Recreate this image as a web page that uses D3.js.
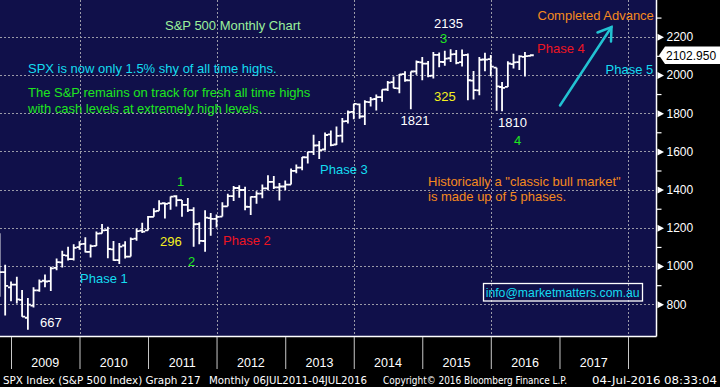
<!DOCTYPE html>
<html>
<head>
<meta charset="utf-8">
<script src="https://cdn.jsdelivr.net/npm/d3@7"></script>
<style>
  html, body { margin: 0; padding: 0; background: #000; }
  svg { display: block; font-family: "Liberation Sans", Arial, sans-serif; }
</style>
</head>
<body>
<svg id="chart" width="720" height="387"></svg>
<script>
// Monthly SPX bars, Oct 2008 - Jul 2016
const months = [
  "2008-10","2008-11","2008-12",
  "2009-01","2009-02","2009-03","2009-04","2009-05","2009-06","2009-07","2009-08","2009-09","2009-10","2009-11","2009-12",
  "2010-01","2010-02","2010-03","2010-04","2010-05","2010-06","2010-07","2010-08","2010-09","2010-10","2010-11","2010-12",
  "2011-01","2011-02","2011-03","2011-04","2011-05","2011-06","2011-07","2011-08","2011-09","2011-10","2011-11","2011-12",
  "2012-01","2012-02","2012-03","2012-04","2012-05","2012-06","2012-07","2012-08","2012-09","2012-10","2012-11","2012-12",
  "2013-01","2013-02","2013-03","2013-04","2013-05","2013-06","2013-07","2013-08","2013-09","2013-10","2013-11","2013-12",
  "2014-01","2014-02","2014-03","2014-04","2014-05","2014-06","2014-07","2014-08","2014-09","2014-10","2014-11","2014-12",
  "2015-01","2015-02","2015-03","2015-04","2015-05","2015-06","2015-07","2015-08","2015-09","2015-10","2015-11","2015-12",
  "2016-01","2016-02","2016-03","2016-04","2016-05","2016-06","2016-07"
];
const opens = [
  1164.17, 968.67, 888.61,
  902.99, 823.09, 729.57, 793.59, 872.74, 923.26, 920.82, 990.22, 1019.52, 1054.91, 1036.18, 1098.89,
  1116.56, 1073.89, 1105.36, 1171.23, 1188.58, 1087.30, 1031.10, 1107.53, 1049.72, 1143.49, 1185.71, 1186.60,
  1257.62, 1289.14, 1328.64, 1329.48, 1365.21, 1345.20, 1320.64, 1292.59, 1219.12, 1131.21, 1251.00, 1246.91,
  1258.86, 1312.45, 1365.90, 1408.47, 1397.86, 1309.87, 1362.33, 1379.32, 1406.54, 1440.90, 1412.20, 1416.18,
  1426.19, 1498.11, 1514.68, 1569.18, 1597.55, 1631.71, 1609.78, 1689.42, 1635.95, 1682.41, 1758.70, 1806.55,
  1845.86, 1782.68, 1857.68, 1873.96, 1884.39, 1923.87, 1962.29, 1929.80, 2004.07, 1971.44, 2018.21, 2065.78,
  2058.90, 1996.67, 2105.23, 2067.63, 2087.38, 2108.64, 2067.00, 2104.49, 1970.09, 1919.65, 2080.76, 2082.93,
  2038.20, 1936.94, 1937.09, 2056.62, 2067.17, 2093.94, 2099.34
];
const highs = [
  1172.00, 1007.51, 918.85,
  943.85, 875.01, 832.98, 888.70, 930.17, 956.23, 996.68, 1039.47, 1080.15, 1101.36, 1113.69, 1130.38,
  1150.45, 1112.42, 1180.69, 1219.80, 1205.13, 1131.23, 1120.95, 1129.24, 1148.90, 1196.14, 1227.08, 1262.60,
  1302.67, 1344.07, 1332.28, 1364.56, 1370.58, 1345.20, 1356.48, 1307.38, 1229.29, 1292.66, 1277.55, 1269.37,
  1333.47, 1378.04, 1419.15, 1422.38, 1415.32, 1363.46, 1391.74, 1426.68, 1474.51, 1470.96, 1434.27, 1448.00,
  1509.94, 1530.94, 1570.28, 1597.57, 1687.18, 1654.19, 1698.78, 1709.67, 1729.86, 1775.22, 1813.55, 1849.44,
  1850.84, 1867.92, 1883.97, 1897.28, 1924.03, 1968.17, 1991.39, 2005.04, 2019.26, 2018.19, 2075.76, 2093.55,
  2072.36, 2119.59, 2117.52, 2125.92, 2134.72, 2129.87, 2132.82, 2112.66, 2020.86, 2094.32, 2116.48, 2104.27,
  2038.20, 1962.96, 2072.21, 2111.05, 2103.48, 2120.55, 2108.71
];
const lows = [
  839.80, 741.02, 815.69,
  804.30, 734.52, 666.79, 783.32, 866.10, 888.86, 869.32, 978.51, 991.97, 1029.38, 1029.38, 1085.89,
  1071.59, 1044.50, 1105.36, 1170.69, 1040.78, 1028.33, 1010.91, 1039.70, 1049.72, 1131.87, 1173.00, 1186.60,
  1257.62, 1289.14, 1249.05, 1294.70, 1311.80, 1258.07, 1282.86, 1101.54, 1114.22, 1074.77, 1158.66, 1202.37,
  1258.86, 1312.45, 1340.03, 1357.38, 1291.98, 1266.74, 1325.41, 1354.65, 1396.56, 1403.28, 1343.35, 1398.11,
  1426.19, 1485.01, 1501.48, 1536.03, 1581.28, 1560.33, 1604.57, 1627.47, 1633.41, 1646.47, 1746.20, 1767.99,
  1770.45, 1737.92, 1834.44, 1814.36, 1859.79, 1915.98, 1930.67, 1904.78, 1964.04, 1820.66, 2001.01, 1972.56,
  1988.12, 1980.90, 2039.69, 2048.38, 2067.93, 2056.32, 2044.02, 1867.01, 1871.91, 1893.70, 2019.39, 1993.26,
  1812.29, 1810.10, 1937.09, 2033.80, 2025.91, 1991.68, 2097.90
];
const closes = [
  968.75, 896.24, 903.25,
  825.88, 735.09, 797.87, 872.81, 919.14, 919.32, 987.48, 1020.62, 1057.08, 1036.19, 1095.63, 1115.10,
  1073.87, 1104.49, 1169.43, 1186.69, 1089.41, 1030.71, 1101.60, 1049.33, 1141.20, 1183.26, 1180.55, 1257.64,
  1286.12, 1327.22, 1325.83, 1363.61, 1345.20, 1320.64, 1292.28, 1218.89, 1131.42, 1253.30, 1246.96, 1257.60,
  1312.41, 1365.68, 1408.47, 1397.91, 1310.33, 1362.16, 1379.32, 1406.58, 1440.67, 1412.16, 1416.18, 1426.19,
  1498.11, 1514.68, 1569.19, 1597.57, 1630.74, 1606.28, 1685.73, 1632.97, 1681.55, 1756.54, 1805.81, 1848.36,
  1782.59, 1859.45, 1872.34, 1883.95, 1923.57, 1960.23, 1930.67, 2003.37, 1972.29, 2018.05, 2067.56, 2058.90,
  1994.99, 2104.50, 2067.89, 2085.51, 2107.39, 2063.11, 2103.84, 1972.18, 1920.03, 2079.36, 2080.41, 2043.94,
  1940.24, 1932.23, 2059.74, 2065.30, 2096.95, 2098.86, 2102.95
];

const yTicks = [800, 1000, 1200, 1400, 1600, 1800, 2000, 2200];
const yMinorTicks = [900, 1100, 1300, 1500, 1700, 1900, 2100, 2300];
const yearLabels = [2009, 2010, 2011, 2012, 2013, 2014, 2015, 2016, 2017];
const gridYears = [2010, 2012, 2014, 2016, 2018];
const lastPrice = 2102.95;

const svg = d3.select("#chart");
const plotR = 656, plotB = 336;
const navy = "#10104a";

const x = d3.scaleTime()
  .domain([new Date(2009, 0, 1), new Date(2018, 0, 1)])
  .range([11, 628]);
const y = d3.scaleLinear()
  .domain([800, 2200])
  .range([304.3, 36.7]);

const parseMonth = d3.timeParse("%Y-%m");
// bloomberg draws each monthly bar at the month end
const bars = months.map((m, i) => ({
  date: d3.timeMonth.offset(parseMonth(m), 1),
  o: opens[i], h: highs[i], l: lows[i], c: closes[i]
}));

// backgrounds
svg.append("rect").attr("width", 720).attr("height", 387).attr("fill", "#000");
svg.append("rect").attr("width", plotR).attr("height", plotB).attr("fill", navy);

svg.append("defs").append("clipPath").attr("id", "plot-clip")
  .append("rect").attr("width", plotR).attr("height", plotB);

// grid
const grid = svg.append("g")
  .attr("stroke", "#9a9aa8").attr("stroke-width", 1).attr("stroke-dasharray", "2,2");
grid.selectAll("line.h").data(yTicks).join("line")
  .attr("class", "h")
  .attr("x1", 0).attr("x2", plotR)
  .attr("y1", d => Math.round(y(d)) + 0.5).attr("y2", d => Math.round(y(d)) + 0.5);
grid.selectAll("line.v").data(gridYears).join("line")
  .attr("class", "v")
  .attr("x1", d => Math.round(x(new Date(d, 0, 1))) + 0.5)
  .attr("x2", d => Math.round(x(new Date(d, 0, 1))) + 0.5)
  .attr("y1", 0).attr("y2", plotB);

// OHLC bars
const barG = svg.append("g").attr("clip-path", "url(#plot-clip)")
  .attr("stroke", "#fff").attr("stroke-width", 1.8).attr("fill", "none");
barG.selectAll("path").data(bars).join("path")
  .attr("d", d => {
    const cx = x(d.date);
    return `M${cx},${y(d.h)}V${y(d.l)}` +
      `M${cx - 3},${y(d.o)}H${cx}` +
      `M${cx},${y(d.c)}H${cx + 3}`;
  });

// annotations
const cyan = "#14dcf0", green = "#1ee61e", red = "#ee1522",
      orange = "#f58a1e", yellow = "#f5f01e", white = "#ffffff", paleGreen = "#9cf09c";
const notes = [
  ["S&P 500 Monthly Chart", 165, 30, paleGreen],
  ["SPX is now only 1.5% shy of all time highs.", 28, 73, cyan],
  ["The S&P remains on track for fresh all time highs", 28, 97, green],
  ["with cash levels at extremely high levels.", 28, 112.5, green],
  ["1", 177, 186, green],
  ["296", 160, 246, yellow],
  ["2", 188, 265.5, green],
  ["Phase 2", 223, 245, red],
  ["Phase 1", 80, 282.5, cyan],
  ["667", 40, 326.5, white],
  ["Phase 3", 320, 174, cyan],
  ["1821", 400.5, 125.3, white],
  ["325", 434, 101, yellow],
  ["3", 440, 43.3, green],
  ["2135", 434, 28.3, white],
  ["Phase 4", 537, 52.7, red],
  ["1810", 498, 127.3, white],
  ["4", 514, 145.3, green],
  ["Completed Advance", 537.5, 20, orange],
  ["Phase 5", 605.5, 74, cyan],
  ["Historically a \"classic bull market\"", 428, 186, orange],
  ["is made up of 5 phases.", 428, 201, orange]
];
svg.append("g").selectAll("text").data(notes).join("text")
  .attr("x", d => d[1]).attr("y", d => d[2])
  .attr("fill", d => d[3])
  .style("font-size", "13px")
  .text(d => d[0]);

// arrow towards completed advance
const arrow = svg.append("g").attr("stroke", "#22c2d2").attr("stroke-width", 2.5)
  .attr("fill", "none").attr("stroke-linecap", "round");
arrow.append("line").attr("x1", 560).attr("y1", 105.5).attr("x2", 611.5).attr("y2", 27);
arrow.append("polyline").attr("points", "597.5,32.5 611.5,27 611,41.5");

// contact box
svg.append("rect").attr("x", 483.5).attr("y", 283.5).attr("width", 159).attr("height", 17.5)
  .attr("fill", "none").attr("stroke", "#fff").attr("stroke-width", 1.3);
svg.append("text").attr("x", 485.7).attr("y", 297.3).attr("fill", cyan)
  .attr("textLength", 154).attr("lengthAdjust", "spacingAndGlyphs")
  .style("font-size", "12.5px").text("info@marketmatters.com.au");

// frame lines
svg.append("line").attr("x1", 0).attr("x2", plotR + 0.5).attr("y1", plotB + 0.5).attr("y2", plotB + 0.5)
  .attr("stroke", "#fff").attr("stroke-width", 1.5);
svg.append("line").attr("x1", plotR + 0.5).attr("x2", plotR + 0.5).attr("y1", 0).attr("y2", plotB + 0.5)
  .attr("stroke", "#fff").attr("stroke-width", 1.5);

// right axis
const axisG = svg.append("g").attr("transform", `translate(${plotR + 0.5},0)`);
axisG.call(d3.axisRight(y).tickValues(yMinorTicks).tickSize(5).tickFormat(""))
  .call(g => g.select(".domain").remove())
  .call(g => g.selectAll(".tick line").attr("stroke", "#fff").attr("stroke-width", 1.2));
const majorG = svg.append("g").attr("transform", `translate(${plotR + 0.5},0)`);
majorG.call(d3.axisRight(y).tickValues(yTicks).tickSize(0).tickPadding(10).tickFormat(d3.format("d")))
  .call(g => g.select(".domain").remove())
  .call(g => g.selectAll(".tick text")
    .attr("fill", "#fff").style("font-size", "12px")
    .style("font-family", "\"Liberation Sans\", Arial, sans-serif"));
majorG.selectAll(".tick").append("path")
  .attr("d", "M1,-3.5L7.5,0L1,3.5Z").attr("fill", "#fff");

// last price tag
const py = y(lastPrice);
svg.append("path")
  .attr("d", `M659,${py}L665,${py - 8.8}H720V${py + 8.8}H665Z`)
  .attr("fill", "#fff");
svg.append("text").attr("x", 666).attr("y", py + 4.5).attr("fill", "#000")
  .style("font-size", "12px").text(d3.format(".3f")(lastPrice));

// bottom time axis
const yearTicks = d3.timeYear.range(new Date(2009, 0, 1), new Date(2018, 0, 2));
const timeG = svg.append("g").attr("transform", `translate(0,${plotB + 1})`);
timeG.call(d3.axisBottom(x).tickValues(yearTicks).tickSize(32).tickFormat(""))
  .call(g => g.select(".domain").remove())
  .call(g => g.selectAll(".tick line").attr("stroke", "#c8c8c8").attr("stroke-width", 1));
svg.append("g").selectAll("text").data(yearLabels).join("text")
  .attr("x", d => (x(new Date(d, 0, 1)) + x(new Date(d + 1, 0, 1))) / 2)
  .attr("y", 366.5)
  .attr("text-anchor", "middle")
  .attr("fill", "#fff")
  .style("font-size", "12.5px")
  .text(d => d);

// footer
const footer = [
  ["SPX Index (S&P 500 Index) Graph 217", 3, 197.5],
  ["Monthly 06JUL2011-04JUL2016", 209, 158],
  ["Copyright\u00a9 2016 Bloomberg Finance L.P.", 383, 184],
  ["04-Jul-2016 08:33:04", 592, 125]
];
svg.append("g").selectAll("text").data(footer).join("text")
  .attr("x", d => d[1]).attr("y", 383.5)
  .attr("textLength", d => d[2]).attr("lengthAdjust", "spacingAndGlyphs")
  .attr("fill", "#fff")
  .style("font-size", "10.5px")
  .style("font-family", "\"Liberation Sans Narrow\", \"DejaVu Sans Condensed\", sans-serif")
  .text(d => d[0]);
</script>
</body>
</html>
